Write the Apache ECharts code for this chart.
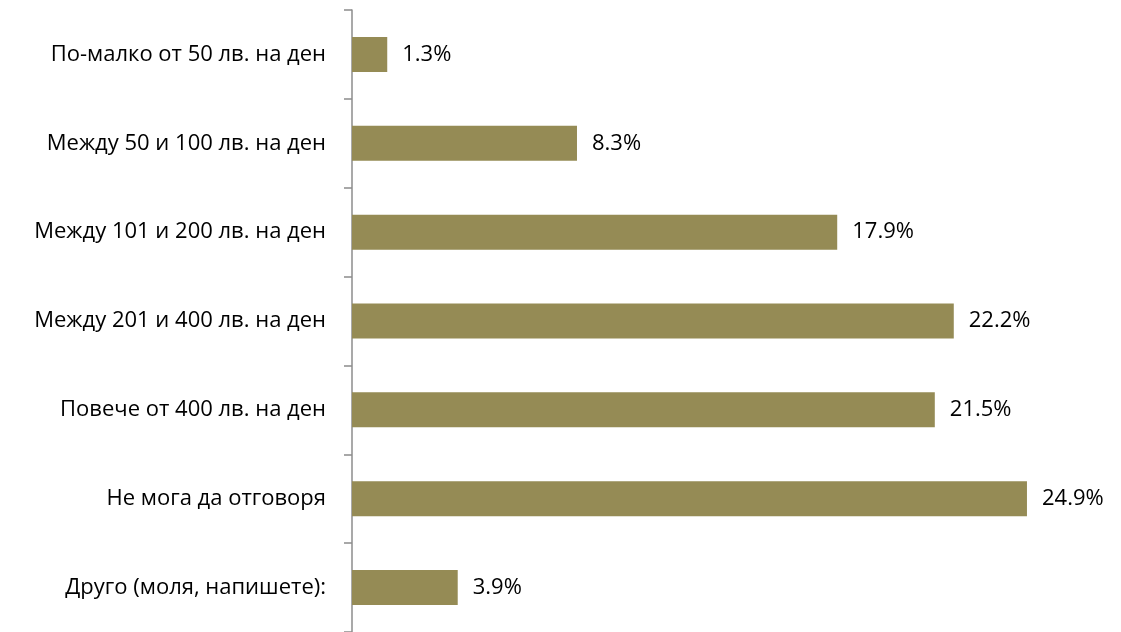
<!DOCTYPE html>
<html><head><meta charset="utf-8">
<script src="https://cdn.jsdelivr.net/npm/echarts@6/dist/echarts.min.js"></script>
<style>html,body{margin:0;padding:0;background:#fff}#c{width:1121px;height:632px}</style>
</head><body><div id="c"></div>
<script>
const categories = ["По-малко от 50 лв. на ден","Между 50 и 100 лв. на ден","Между 101 и 200 лв. на ден","Между 201 и 400 лв. на ден","Повече от 400 лв. на ден","Не мога да отговоря","Друго (моля, напишете):"];
const values = [1.3, 8.3, 17.9, 22.2, 21.5, 24.9, 3.9];
const chart = echarts.init(document.getElementById('c'));
chart.setOption({
  animation:false,
  grid:{left:352, top:10, width:759, height:628},
  xAxis:{type:'value', min:0, max:28, show:false},
  yAxis:{type:'category', data:categories, inverse:true,
    axisLine:{lineStyle:{color:'#8c8c8c', width:1.5}},
    axisTick:{show:true, length:8, lineStyle:{color:'#8c8c8c', width:1.5}},
    axisLabel:{color:'#000', fontSize:22, fontFamily:'Open Sans', margin:26}
  },
  series:[{type:'bar', data:values, barWidth:35, itemStyle:{color:'#958b55'},
    label:{show:true, position:'right', distance:15, color:'#000', fontSize:22, fontFamily:'Open Sans', formatter:p=>p.value.toFixed(1)+'%'}}]
});
</script></body></html>
